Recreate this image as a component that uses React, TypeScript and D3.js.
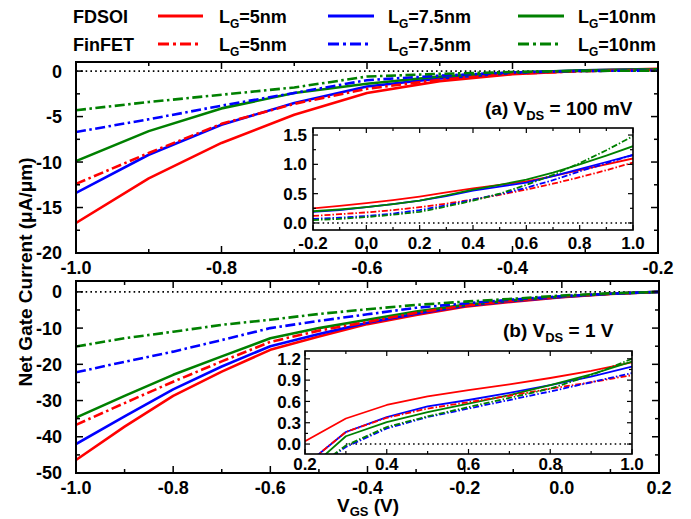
import React from 'react';
import * as d3 from 'd3';

// ---------- DATA ----------
// Panel (a) V_DS = 100 mV, main
const xA = [-1.0, -0.9, -0.8, -0.7, -0.6, -0.5, -0.4, -0.3, -0.2];
const fdsoi5A = [-16.7, -11.8, -7.9, -4.8, -2.4, -1.1, -0.35, 0.05, 0.25];
const fdsoi75A = [-13.4, -9.2, -5.9, -3.5, -1.7, -0.8, -0.2, 0.1, 0.2];
const fdsoi10A = [-9.9, -6.6, -4.1, -2.4, -1.4, -0.6, -0.15, 0.1, 0.2];
const fin5A = [-12.4, -9.0, -5.8, -3.6, -1.95, -0.95, -0.3, 0.0, 0.12];
const fin75A = [-6.7, -5.3, -3.8, -2.4, -1.0, -0.5, -0.15, 0.02, 0.07];
const fin10A = [-4.3, -3.4, -2.6, -1.8, -0.6, -0.3, -0.1, 0.02, 0.05];

// Panel (a) inset
const xAi = [-0.2, -0.1, 0.0, 0.1, 0.2, 0.3, 0.4, 0.5, 0.6, 0.7, 0.8, 0.9, 1.0];
const fdsoi5Ai = [0.25, 0.29, 0.34, 0.39, 0.45, 0.52, 0.59, 0.65, 0.71, 0.8, 0.9, 1.0, 1.1];
const fdsoi75Ai = [0.19, 0.22, 0.27, 0.32, 0.38, 0.46, 0.55, 0.62, 0.69, 0.8, 0.92, 1.04, 1.16];
const fdsoi10Ai = [0.2, 0.23, 0.27, 0.32, 0.38, 0.47, 0.57, 0.65, 0.74, 0.86, 1.0, 1.15, 1.31];
const fin5Ai = [0.12, 0.15, 0.18, 0.22, 0.27, 0.33, 0.4, 0.48, 0.57, 0.67, 0.78, 0.9, 1.03];
const fin75Ai = [0.07, 0.09, 0.12, 0.16, 0.22, 0.3, 0.4, 0.49, 0.6, 0.73, 0.88, 1.02, 1.16];
const fin10Ai = [0.05, 0.07, 0.1, 0.14, 0.19, 0.28, 0.38, 0.5, 0.65, 0.82, 1.02, 1.24, 1.48];

// Panel (b) V_DS = 1 V, main
const xB = [-1.0, -0.9, -0.8, -0.7, -0.6, -0.5, -0.4, -0.3, -0.2, -0.1, 0.0, 0.1, 0.2];
const fdsoi5B = [-46.4, -37.2, -28.7, -22.0, -16.0, -12.3, -8.9, -6.4, -4.1, -2.7, -1.5, -0.55, 0.0];
const fdsoi75B = [-42.0, -34.4, -26.9, -20.6, -15.0, -11.6, -8.5, -6.0, -3.9, -2.5, -1.4, -0.5, 0.0];
const fdsoi10B = [-34.7, -28.7, -22.9, -17.8, -12.8, -10.0, -7.7, -5.4, -3.6, -2.3, -1.3, -0.5, 0.0];
const fin5B = [-36.7, -30.7, -24.8, -19.2, -13.8, -10.7, -8.3, -5.8, -3.8, -2.4, -1.3, -0.5, 0.0];
const fin75B = [-22.2, -19.3, -16.5, -13.3, -10.0, -8.0, -6.2, -4.4, -3.2, -2.1, -1.2, -0.5, 0.0];
const fin10B = [-15.1, -12.8, -11.0, -9.1, -7.7, -6.1, -4.8, -3.6, -2.7, -1.9, -1.0, -0.4, 0.0];

// Panel (b) inset
const xBi = [0.2, 0.3, 0.4, 0.5, 0.6, 0.7, 0.8, 0.9, 1.0];
const fdsoi5Bi = [0.04, 0.36, 0.55, 0.67, 0.76, 0.84, 0.93, 1.03, 1.15];
const fdsoi75Bi = [-0.3, 0.17, 0.38, 0.53, 0.62, 0.72, 0.83, 0.95, 1.09];
const fdsoi10Bi = [-0.4, 0.11, 0.31, 0.45, 0.57, 0.69, 0.83, 0.98, 1.16];
const fin5Bi = [-0.3, 0.17, 0.37, 0.5, 0.59, 0.68, 0.78, 0.87, 0.97];
const fin75Bi = [-0.45, -0.04, 0.22, 0.38, 0.5, 0.62, 0.74, 0.87, 1.0];
const fin10Bi = [-0.45, -0.02, 0.24, 0.39, 0.52, 0.65, 0.78, 0.97, 1.2];
const zeroLineBi = [0.3, 1.0];

// Tick values
const xTicksA = [-1.0, -0.8, -0.6, -0.4, -0.2];
const xMinorA = [-0.9, -0.7, -0.5, -0.3];
const yTicksA = [0, -5, -10, -15, -20];
const yMinorA = [-2.5, -7.5, -12.5, -17.5];
const xTicksAi = [-0.2, 0.0, 0.2, 0.4, 0.6, 0.8, 1.0];
const xMinorAi = [-0.1, 0.1, 0.3, 0.5, 0.7, 0.9];
const yTicksAi = [0.0, 0.5, 1.0, 1.5];
const yMinorAi = [0.25, 0.75, 1.25];
const xTicksB = [-1.0, -0.8, -0.6, -0.4, -0.2, 0.0, 0.2];
const xMinorB = [-0.9, -0.7, -0.5, -0.3, -0.1, 0.1];
const yTicksB = [0, -10, -20, -30, -40, -50];
const yMinorB = [-5, -15, -25, -35, -45];
const xTicksBi = [0.2, 0.4, 0.6, 0.8, 1.0];
const xMinorBi = [0.3, 0.5, 0.7, 0.9];
const yTicksBi = [0.0, 0.3, 0.6, 0.9, 1.2];
const yMinorBi = [0.15, 0.45, 0.75, 1.05];

const legendLabels = ['5nm', '7.5nm', '10nm'];
const legendRows = ['FDSOI', 'FinFET'];

// ---------- STYLE ----------
const FONT = "'Liberation Sans', Arial, Helvetica, sans-serif";
const COLORS = ['#ff0000', '#0000ff', '#008000'];
const DASH_MAIN = '10 3.5 2.5 3.5';
const DASH_INSET = '6 2 1.5 2';

const fmt1 = (v: number) => (Math.abs(v) < 1e-9 ? 0 : v).toFixed(1);
const fmt0 = (v: number) => String(Math.abs(v) < 1e-9 ? 0 : v);

type S = { x: number[]; y: number[]; color: string; dashed: boolean };

interface PanelProps {
  id: string;
  left: number; right: number; top: number; bottom: number;
  xDomain: [number, number]; yDomain: [number, number];
  series: S[];
  xTicks: number[]; xMinor: number[]; yTicks: number[]; yMinor: number[];
  xFmt: (v: number) => string; yFmt: (v: number) => string;
  font: number; xLabelBase: number; yLabelGap: number;
  major: number; minor: number; frameW: number; lineW: number; dash: string;
  zero: [number, number] | null;
  bg?: boolean;
}

function Panel(p: PanelProps) {
  const x = d3.scaleLinear().domain(p.xDomain).range([p.left, p.right]);
  const y = d3.scaleLinear().domain(p.yDomain).range([p.bottom, p.top]);
  const line = d3.line<[number, number]>().x((d) => x(d[0])).y((d) => y(d[1]));
  const tk = (v: number, len: number, axis: 'x' | 'y', k: string) =>
    axis === 'x' ? (
      <g key={k}>
        <line x1={x(v)} x2={x(v)} y1={p.bottom} y2={p.bottom - len} />
        <line x1={x(v)} x2={x(v)} y1={p.top} y2={p.top + len} />
      </g>
    ) : (
      <g key={k}>
        <line x1={p.left} x2={p.left + len} y1={y(v)} y2={y(v)} />
        <line x1={p.right} x2={p.right - len} y1={y(v)} y2={y(v)} />
      </g>
    );
  return (
    <g>
      <defs>
        <clipPath id={p.id}>
          <rect x={p.left} y={p.top} width={p.right - p.left} height={p.bottom - p.top} />
        </clipPath>
      </defs>
      {p.bg && <rect x={p.left} y={p.top} width={p.right - p.left} height={p.bottom - p.top} fill="#fff" />}
      <g clipPath={`url(#${p.id})`}>
        {p.zero && (
          <line x1={x(p.zero[0])} x2={x(p.zero[1])} y1={y(0)} y2={y(0)} stroke="#000"
            strokeWidth={1.6} strokeDasharray="1.6 3.2" />
        )}
        {p.series.map((s, i) => (
          <path key={i} d={line(s.x.map((v, j) => [v, s.y[j]] as [number, number])) || ''}
            fill="none" stroke={s.color} strokeWidth={p.lineW}
            strokeDasharray={s.dashed ? p.dash : undefined} strokeLinejoin="round" />
        ))}
      </g>
      <g stroke="#000" strokeWidth={p.frameW * 0.75}>
        {p.xTicks.map((v, i) => tk(v, p.major, 'x', 'xm' + i))}
        {p.xMinor.map((v, i) => tk(v, p.minor, 'x', 'xn' + i))}
        {p.yTicks.map((v, i) => tk(v, p.major, 'y', 'ym' + i))}
        {p.yMinor.map((v, i) => tk(v, p.minor, 'y', 'yn' + i))}
      </g>
      <rect x={p.left} y={p.top} width={p.right - p.left} height={p.bottom - p.top}
        fill="none" stroke="#000" strokeWidth={p.frameW} />
      <g fontFamily={FONT} fontWeight="bold" fontSize={p.font} fill="#000">
        {p.xTicks.map((v, i) => (
          <text key={'xl' + i} x={x(v)} y={p.xLabelBase} textAnchor="middle">{p.xFmt(v)}</text>
        ))}
        {p.yTicks.map((v, i) => (
          <text key={'yl' + i} x={p.left - p.yLabelGap} y={y(v) + p.font * 0.36} textAnchor="end">{p.yFmt(v)}</text>
        ))}
      </g>
    </g>
  );
}

const mk = (xs: number[], ys: number[][]): S[] =>
  ys.map((y, i) => ({ x: xs, y, color: COLORS[i % 3], dashed: i >= 3 }));

export default function App() {
  const seriesA = mk(xA, [fdsoi5A, fdsoi75A, fdsoi10A, fin5A, fin75A, fin10A]);
  const seriesAi = mk(xAi, [fdsoi5Ai, fdsoi75Ai, fdsoi10Ai, fin5Ai, fin75Ai, fin10Ai]);
  const seriesB = mk(xB, [fdsoi5B, fdsoi75B, fdsoi10B, fin5B, fin75B, fin10B]);
  const seriesBi = mk(xBi, [fdsoi5Bi, fdsoi75Bi, fdsoi10Bi, fin5Bi, fin75Bi, fin10Bi]);

  const legLineX = [[158, 203], [328, 374], [518, 564]];
  const legTextX = [219, 388, 578];
  const legY = [16, 44];

  return (
    <svg width={691} height={519} style={{ position: 'absolute', left: 0, top: 0, background: '#fff' }}>
      <rect x={0} y={0} width={691} height={519} fill="#fff" />
      {/* Legend */}
      <g fontFamily={FONT} fontWeight="bold" fontSize={18} fill="#000">
        {legendRows.map((r, ri) => (
          <g key={r}>
            <text x={73} y={legY[ri] + 6.5}>{r}</text>
            {legendLabels.map((l, li) => (
              <g key={l}>
                <line x1={legLineX[li][0]} x2={ri === 0 ? legLineX[li][1] : legLineX[li][1] - 4}
                  y1={legY[ri]} y2={legY[ri]} stroke={COLORS[li]} strokeWidth={3}
                  strokeDasharray={ri === 1 ? '11 4 3 4' : undefined} />
                <text x={legTextX[li]} y={legY[ri] + 6.5}>
                  L<tspan fontSize={12} dy={5}>G</tspan><tspan dy={-5}>={l}</tspan>
                </text>
              </g>
            ))}
          </g>
        ))}
      </g>

      {/* Panel (a) */}
      <Panel id="ca" left={76} right={658} top={62} bottom={253}
        xDomain={[-1.0, -0.2]} yDomain={[-20, 1]} series={seriesA}
        xTicks={xTicksA} xMinor={xMinorA} yTicks={yTicksA} yMinor={yMinorA}
        xFmt={fmt1} yFmt={fmt0} font={18} xLabelBase={274} yLabelGap={14}
        major={7} minor={4} frameW={2} lineW={2.6} dash={DASH_MAIN} zero={[-1.0, -0.2]} />
      <Panel id="cai" left={313} right={633} top={128} bottom={230} bg
        xDomain={[-0.2, 1.0]} yDomain={[-0.12, 1.62]} series={seriesAi}
        xTicks={xTicksAi} xMinor={xMinorAi} yTicks={yTicksAi} yMinor={yMinorAi}
        xFmt={fmt1} yFmt={fmt1} font={17} xLabelBase={249} yLabelGap={6}
        major={5} minor={3} frameW={1.6} lineW={1.8} dash={DASH_INSET} zero={[-0.2, 1.0]} />
      <text x={485} y={115} fontFamily={FONT} fontWeight="bold" fontSize={19}>
        (a) V<tspan fontSize={13} dy={5}>DS</tspan><tspan dy={-5}> = 100 mV</tspan>
      </text>

      {/* Panel (b) */}
      <Panel id="cb" left={76} right={659} top={281} bottom={473}
        xDomain={[-1.0, 0.2]} yDomain={[-50, 3]} series={seriesB}
        xTicks={xTicksB} xMinor={xMinorB} yTicks={yTicksB} yMinor={yMinorB}
        xFmt={fmt1} yFmt={fmt0} font={18} xLabelBase={494} yLabelGap={14}
        major={7} minor={4} frameW={2} lineW={2.6} dash={DASH_MAIN} zero={[-1.0, 0.2]} />
      <Panel id="cbi" left={305} right={632} top={351} bottom={454} bg
        xDomain={[0.2, 1.0]} yDomain={[-0.14, 1.31]} series={seriesBi}
        xTicks={xTicksBi} xMinor={xMinorBi} yTicks={yTicksBi} yMinor={yMinorBi}
        xFmt={fmt1} yFmt={fmt1} font={17} xLabelBase={470} yLabelGap={4}
        major={5} minor={3} frameW={1.6} lineW={1.8} dash={DASH_INSET} zero={[zeroLineBi[0], zeroLineBi[1]]} />
      <text x={503} y={337} fontFamily={FONT} fontWeight="bold" fontSize={19}>
        (b) V<tspan fontSize={13} dy={5}>DS</tspan><tspan dy={-5}> = 1 V</tspan>
      </text>

      {/* Axis titles */}
      <text x={337} y={512} fontFamily={FONT} fontWeight="bold" fontSize={19}>
        V<tspan fontSize={13} dy={4}>GS</tspan><tspan dy={-4}> (V)</tspan>
      </text>
      <text transform="translate(32,272) rotate(-90)" textAnchor="middle" fontFamily={FONT}
        fontWeight="bold" fontSize={19}>Net Gate Current (μA/μm)</text>
    </svg>
  );
}
